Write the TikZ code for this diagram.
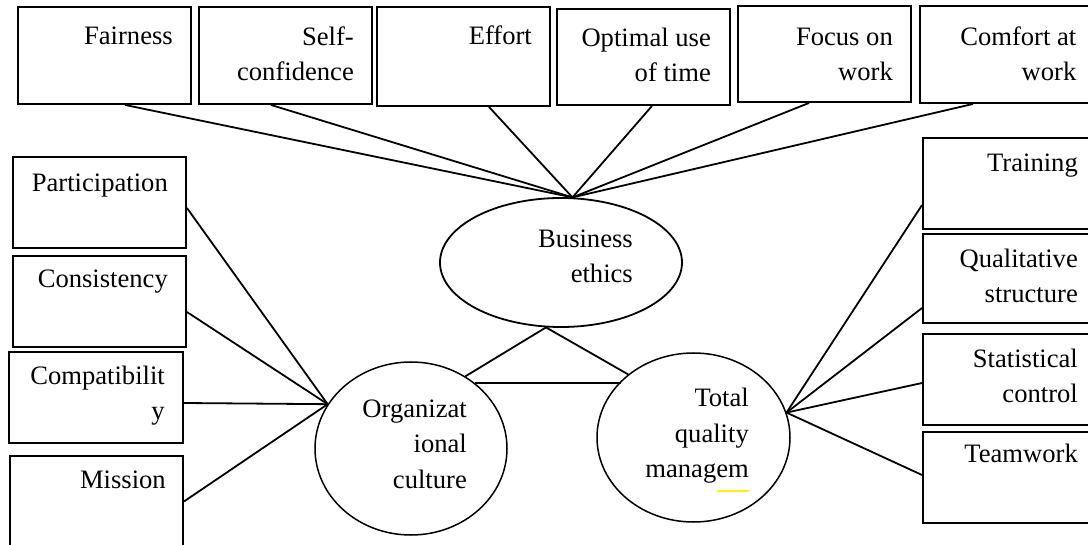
\documentclass[tikz,border=0pt]{standalone}
\usepackage{fontspec}
\setmainfont{Liberation Serif}
\usetikzlibrary{shapes.geometric}
\begin{document}
\begin{tikzpicture}[x=1pt,y=-1pt,
  box/.style={draw,line width=1.9pt,rectangle,inner sep=0pt,minimum width=173pt},
  oval/.style={draw,line width=1.5pt,ellipse,inner sep=0pt},
  lbl/.style={anchor=base east,inner sep=0pt,align=right,font=\fontsize{26.6}{35.5}\selectfont},
  link/.style={line width=1.8pt}]
\useasboundingbox (0,0) rectangle (1088,545);
% top boxes
\node[box,minimum height=97pt] (fair) at (104.5,55.5) {};
\node[box,minimum height=97pt] (self) at (285.5,55.5) {};
\node[box,minimum height=99pt] (effort) at (463.5,56.5) {};
\node[box,minimum height=96pt] (optim) at (643.5,57) {};
\node[box,minimum height=96pt] (focus) at (824.5,54) {};
\node[box,minimum height=97pt] (comfort) at (1006.5,54.5) {};
% left boxes
\node[box,minimum height=91pt] (part) at (99.5,202.5) {};
\node[box,minimum height=91pt] (cons) at (99.5,301.5) {};
\node[box,minimum height=91pt,minimum width=174pt] (compat) at (96,397.5) {};
\node[box,minimum height=91pt] (mission) at (96.5,501.5) {};
% right boxes
\node[box,minimum height=91pt] (train) at (1009.5,183.5) {};
\node[box,minimum height=89pt] (qual) at (1009.5,278.5) {};
\node[box,minimum height=91pt] (stat) at (1009.5,379.5) {};
\node[box,minimum height=91pt] (team) at (1009.5,477.5) {};
% ellipses
\node[oval,minimum width=242pt,minimum height=129pt,line width=1.8pt] (be) at (561,262.5) {};
\node[oval,minimum width=192pt,minimum height=173pt] (oc) at (411,448.5) {};
\node[oval,minimum width=193pt,minimum height=169pt] (tqm) at (693.5,437.5) {};
% labels (anchor = baseline of last line)
\node[lbl] (fairT) at (173,45) {Fairness};
\node[lbl] (selfT) at (354,81) {Self-\\confidence};
\node[lbl] (effortT) at (532,45) {Effort};
\node[lbl] (optimT) at (711,82) {Optimal use\\of time};
\node[lbl] (focusT) at (893,81) {Focus on\\work};
\node[lbl] (comfortT) at (1076.5,81) {Comfort at\\work};
\node[lbl] (partT) at (168,192) {Participation};
\node[lbl] (consT) at (168,288) {Consistency};
\node[lbl] (compatT) at (165,420) {Compatibilit\\y};
\node[lbl] (missionT) at (166,489) {Mission};
\node[lbl] (trainT) at (1078,172) {Training};
\node[lbl] (qualT) at (1078,303) {Qualitative\\structure};
\node[lbl] (statT) at (1078,403) {Statistical\\control};
\node[lbl] (teamT) at (1078,463) {Teamwork};
\node[lbl] (beT) at (633,283) {Business\\ethics};
\node[lbl] (ocT) at (467,488) {Organizat\\ional\\culture};
\node[lbl] (tqmT) at (749,478) {Total\\quality\\managem};
\draw[yellow,line width=2pt] (717,491) -- (749,491);
% connectors to business ethics
\draw[link] ([xshift=20.5pt]fair.south) -- (be.80);
\draw[link] ([xshift=-14.5pt]self.south) -- (be.80);
\draw[link] ([xshift=25.5pt]effort.south) -- (be.80);
\draw[link] ([xshift=8.5pt]optim.south) -- (be.80);
\draw[link] ([xshift=-15.5pt]focus.south) -- (be.80);
\draw[link] ([xshift=-33.5pt]comfort.south) -- (be.80);
% connectors to organizational culture
\draw[link] ([yshift=-5.5pt]part.east) -- (oc.152);
\draw[link] ([yshift=-10.5pt]cons.east) -- (oc.152);
\draw[link] ([yshift=-5.5pt]compat.east) -- (oc.152);
\draw[link] (mission.east) -- (oc.152);
% connectors to total quality management
\draw[link] ([yshift=-21.5pt]train.west) -- (tqm.15);
\draw[link] ([yshift=-29.5pt]qual.west) -- (tqm.15);
\draw[link] ([yshift=-3.5pt]stat.west) -- (tqm.15);
\draw[link] ([yshift=2.5pt]team.west) -- (tqm.15);
% triangle
\draw[link] (be.-103) -- (oc.53);
\draw[link] (be.-103) -- (tqm.136);
\draw[link] (oc.46.6) -- (oc.46.6 -| tqm.142.6);
\end{tikzpicture}
\end{document}
